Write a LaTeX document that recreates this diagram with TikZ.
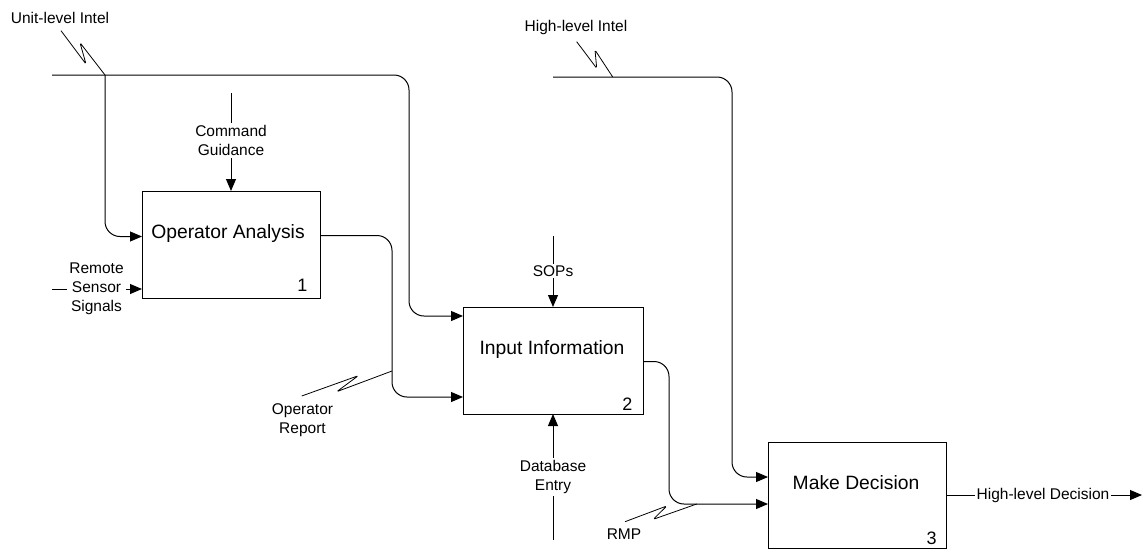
\documentclass[tikz,border=0pt]{standalone}
\usepackage{fontspec}
\setmainfont{Liberation Sans}
\usetikzlibrary{arrows.meta,calc}

\begin{document}
\begin{tikzpicture}[x=1pt,y=-1pt,line width=1pt,
  box/.style={draw,line width=1pt,inner sep=0pt,outer sep=0pt},
  arr/.style={-{Triangle[length=12pt,width=10pt]}},
  rc/.style={rounded corners=15pt},
  lbl/.style={font=\fontsize{15.5}{19}\selectfont,align=center,inner sep=2pt},
  wlbl/.style={lbl,fill=white},
  title/.style={font=\fontsize{19.3}{23}\selectfont,inner sep=0pt},
  num/.style={font=\fontsize{18}{20}\selectfont,inner sep=0pt,anchor=base east},
  bolt/.style={line width=0.8pt,rounded corners=1.5pt}]
\useasboundingbox (0,0) rectangle (1143,550);

% activity boxes
\node[box,minimum width=178pt,minimum height=107pt] (b1) at (231,244.5) {};
\node[box,minimum width=180pt,minimum height=107pt] (b2) at (553,360.5) {};
\node[box,minimum width=178pt,minimum height=106pt] (b3) at (857,495) {};

\node[title] (t1) at (228,234) {Operator Analysis};
\node[title] (t2) at (552,350) {Input Information};
\node[title] (t3) at (856,483) {Make Decision};

\node[num] (n1) at (308,291.5) {1};
\node[num] (n2) at (633,410) {2};
\node[num] (n3) at (937,544) {3};

% unit-level intel feeding boxes 1 and 2
\coordinate (ul0) at (52,75);
\coordinate (ulj) at (105,75);
\coordinate (ulc) at (409,316);
\draw[arr,rc] (ul0) -| (ulc) -- (ulc -| b2.west);
\coordinate (b1in) at ($(b1.west)+(0,-8)$);
\draw[arr,rc] (ulj) |- (b1in);
\draw[bolt] (61,30.7) -- (86,64) -- (80,42.7) -- (ulj);
\node[lbl] (ull) at (60,18) {Unit-level Intel};

% command guidance
\coordinate (cg0) at (231,93);
\draw[arr] (cg0) -- (b1.north);
\node[wlbl] (cgl) at (231,140.5) {Command\\Guidance};

% remote sensor signals
\coordinate (rs0) at (52,289);
\draw[arr] (rs0) -- (rs0 -| b1.west);
\node[wlbl] (rsl) at (96.5,289) {Remote\\Sensor\\Signals};

% box 1 output into box 2
\coordinate (b1out) at ($(b1.east)+(0,-9)$);
\coordinate (j2) at (392,397);
\draw[arr,rc] (b1out) -| (j2) -- (j2 -| b2.west);
\coordinate (orj) at (392,371);
\draw[bolt] (301.7,396) -- (358.3,375.7) -- (336.7,391.7) -- (orj);
\node[lbl] (orl) at (302.5,419.7) {Operator\\Report};

% SOPs and database entry
\coordinate (sop0) at (553,236);
\draw[arr] (sop0) -- (b2.north);
\node[wlbl] (sopl) at (553,271) {SOPs};
\coordinate (db0) at (553,540);
\draw[arr] (db0) -- (b2.south);
\node[wlbl] (dbl) at (553,477) {Database\\Entry};

% high-level intel into box 3
\coordinate (hl0) at (553,77);
\coordinate (hlj) at (612.7,77);
\coordinate (hlc) at (732,477);
\draw[arr,rc] (hl0) -| (hlc) -- (hlc -| b3.west);
\draw[bolt] (576.7,41.7) -- (596.7,68.3) -- (595,50) -- (hlj);
\node[lbl] (hll) at (576,27.7) {High-level Intel};

% box 2 output into box 3
\coordinate (b2out) at ($(b2.east)+(0,1)$);
\coordinate (j3) at (669,504);
\draw[arr,rc] (b2out) -| (j3) -- (j3 -| b3.west);
\coordinate (rmpj) at (696.7,504);
\draw[bolt] (625,521.7) -- (666.7,506) -- (653.3,519.3) -- (rmpj);
\node[lbl] (rmpl) at (624,534) {RMP};

% final output
\coordinate (out) at (1142,495);
\draw[arr] (b3.east) -- (out);
\node[wlbl] (outl) at (1043,495) {High-level Decision};
\end{tikzpicture}
\end{document}
